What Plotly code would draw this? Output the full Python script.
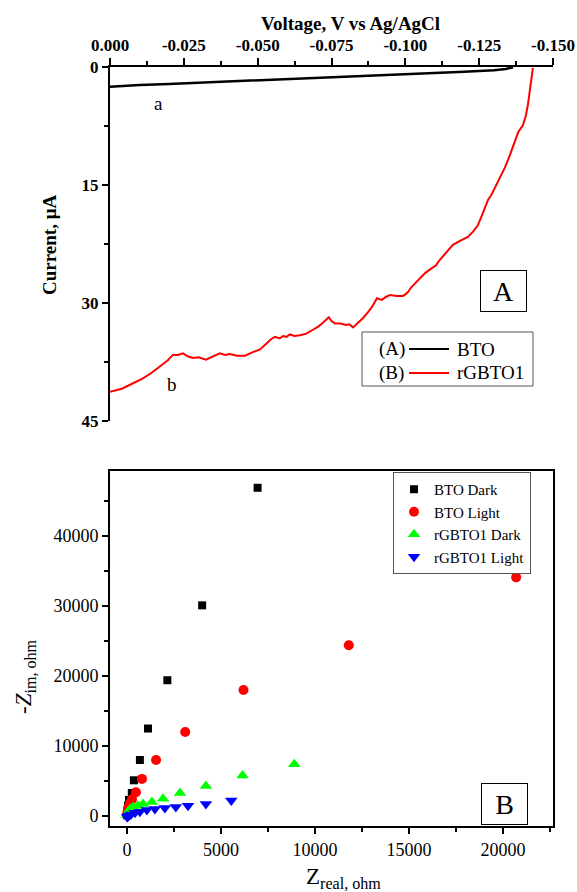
import plotly.graph_objects as go

# ---------------- Panel A data (voltage V vs Ag/AgCl, current uA) ----------------
bto_v = [0.0, -0.002, -0.010, -0.020, -0.030, -0.040, -0.050, -0.060, -0.070, -0.080,
         -0.090, -0.100, -0.110, -0.120, -0.130, -0.134, -0.1365]
bto_i = [2.5, 2.45, 2.3, 2.15, 2.0, 1.85, 1.7, 1.55, 1.4, 1.25,
         1.1, 0.95, 0.8, 0.6, 0.4, 0.25, 0.05]

rg_v = [0.0, -0.0040, -0.0078, -0.0110, -0.0140, -0.0169, -0.0195, -0.0213, -0.0230, -0.0247,
        -0.0265, -0.0281, -0.0300, -0.0325, -0.0350, -0.0372, -0.0390, -0.0406, -0.0430, -0.0457,
        -0.0480, -0.0508, -0.0528, -0.0545, -0.0559, -0.0575, -0.0586, -0.0598, -0.0609, -0.0625,
        -0.0643, -0.0665, -0.0687, -0.0705, -0.0718, -0.0741, -0.0750, -0.0762, -0.0780, -0.0799,
        -0.0810, -0.0823, -0.0840, -0.0857, -0.0875, -0.0887, -0.0904, -0.0921, -0.0935, -0.0948,
        -0.0970, -0.0992, -0.1000, -0.1009, -0.1020, -0.1033, -0.1050, -0.1067, -0.1085, -0.1104,
        -0.1115, -0.1128, -0.1145, -0.1161, -0.1185, -0.1212, -0.1230, -0.1246, -0.1262, -0.1280,
        -0.1292, -0.1304, -0.1320, -0.1337, -0.1354, -0.1370, -0.1382, -0.1398, -0.1408, -0.1415,
        -0.1420, -0.1425, -0.1432]
rg_i = [41.3, 40.9, 40.2, 39.6, 38.9, 38.1, 37.3, 36.6, 36.6, 36.4,
        36.8, 37.0, 36.9, 37.2, 36.8, 36.4, 36.6, 36.5, 36.7, 36.7,
        36.3, 35.9, 35.2, 34.6, 34.3, 34.5, 34.2, 34.3, 34.0, 34.2,
        34.1, 33.9, 33.4, 33.0, 32.6, 31.8, 32.3, 32.6, 32.6, 32.8,
        32.7, 33.1, 32.5, 31.9, 31.1, 30.5, 29.4, 29.6, 29.2, 29.0,
        29.1, 29.1, 28.9, 28.6, 28.0, 27.5, 26.9, 26.2, 25.7, 25.2,
        24.6, 24.0, 23.3, 22.6, 22.1, 21.6, 20.9, 20.1, 18.6, 16.9,
        16.2, 15.3, 14.0, 12.8, 11.2, 9.5, 8.3, 7.4, 6.2, 4.8,
        3.4, 1.9, 0.1]

top_x_ticks = [0.0, -0.025, -0.05, -0.075, -0.1, -0.125, -0.15]
top_x_text = ["0.000", "-0.025", "-0.050", "-0.075", "-0.100", "-0.125", "-0.150"]
top_y_ticks = [0, 15, 30, 45]
top_y_text = ["0", "15", "30", "45"]

# ---------------- Panel B data (Z_real, -Z_im in ohm) ----------------
bto_dark_x = [6950, 4000, 2150, 1120, 690, 370, 260, 110, 60, 30, 10, 0]
bto_dark_y = [46900, 30100, 19400, 12500, 8000, 5100, 3300, 2300, 1500, 900, 400, 100]

bto_light_x = [20700, 11800, 6200, 3100, 1550, 800, 480, 270, 160, 90, 50, 20, 5]
bto_light_y = [34100, 24400, 18000, 12000, 8000, 5300, 3400, 2400, 1800, 1200, 800, 400, 150]

rg_dark_x = [8900, 6150, 4200, 2820, 1920, 1330, 850, 590, 330, 180, 90, 40, 10]
rg_dark_y = [7400, 5800, 4300, 3300, 2450, 2000, 1700, 1450, 1300, 1000, 700, 400, 100]

rg_light_x = [5550, 4200, 3250, 2600, 2020, 1490, 1060, 690, 430, 210, 100, 40, 10]
rg_light_y = [2200, 1700, 1450, 1300, 1150, 1000, 850, 600, 450, 200, 50, -100, -150]

bot_x_ticks = [0, 5000, 10000, 15000, 20000]
bot_x_text = ["0", "5000", "10000", "15000", "20000"]
bot_y_ticks = [0, 10000, 20000, 30000, 40000]
bot_y_text = ["0", "10000", "20000", "30000", "40000"]

W, H = 577, 892
SERIF = "Liberation Serif"


def px(x):
    return x / W


def py(y):
    return 1 - y / H


fig = go.Figure()

fig.add_trace(go.Scatter(x=bto_v, y=bto_i, mode="lines", line=dict(color="black", width=2.5),
                         xaxis="x", yaxis="y", showlegend=False))
fig.add_trace(go.Scatter(x=rg_v, y=rg_i, mode="lines", line=dict(color="#ff0000", width=2),
                         xaxis="x", yaxis="y", showlegend=False))

fig.add_trace(go.Scatter(x=bto_dark_x, y=bto_dark_y, mode="markers", name="BTO Dark",
                         marker=dict(symbol="square", size=8, color="black"),
                         xaxis="x2", yaxis="y2"))
fig.add_trace(go.Scatter(x=bto_light_x, y=bto_light_y, mode="markers", name="BTO Light",
                         marker=dict(symbol="circle", size=10, color="#ff0000"),
                         xaxis="x2", yaxis="y2"))
fig.add_trace(go.Scatter(x=rg_dark_x, y=rg_dark_y, mode="markers", name="rGBTO1 Dark",
                         marker=dict(symbol="triangle-up", size=11, color="#00ff00"),
                         xaxis="x2", yaxis="y2"))
fig.add_trace(go.Scatter(x=rg_light_x, y=rg_light_y, mode="markers", name="rGBTO1 Light",
                         marker=dict(symbol="triangle-down", size=11, color="#0000ff"),
                         xaxis="x2", yaxis="y2"))

xdom = [px(110), px(553)]
bold_tick = dict(family=SERIF, size=17, color="black", weight="bold")
reg_tick = dict(family=SERIF, size=18, color="black")
axis_common = dict(showgrid=False, zeroline=False, showline=True, linecolor="black",
                   linewidth=2, ticks="outside", tickwidth=2, tickcolor="black",
                   automargin=False, tickmode="array")

fig.update_layout(
    width=W, height=H,
    margin=dict(l=0, r=0, t=0, b=0, pad=0, autoexpand=False),
    paper_bgcolor="white", plot_bgcolor="white",
    font=dict(family=SERIF, color="black"),
    xaxis=dict(domain=xdom, anchor="y", side="top", range=[0, -0.15],
               tickvals=top_x_ticks, ticktext=top_x_text, ticklen=7, tickfont=bold_tick,
               minor=dict(ticks="outside", ticklen=4, dtick=0.0125, tickcolor="black", tickwidth=2),
               **axis_common),
    yaxis=dict(domain=[py(421), py(67)], anchor="x", range=[45, 0],
               tickvals=top_y_ticks, ticktext=top_y_text, ticklen=6, tickfont=bold_tick,
               minor=dict(ticks="outside", ticklen=4, dtick=7.5, tickcolor="black", tickwidth=2),
               **axis_common),
    xaxis2=dict(domain=xdom, anchor="y2", range=[-900, 22660], mirror=True,
                tickvals=bot_x_ticks, ticktext=bot_x_text, ticklen=6, tickfont=reg_tick,
                minor=dict(ticks="outside", ticklen=4, dtick=2500, tickcolor="black", tickwidth=2),
                **axis_common),
    yaxis2=dict(domain=[py(826), py(471)], anchor="x2", range=[-1430, 49300], mirror=True,
                tickvals=bot_y_ticks, ticktext=bot_y_text, ticklen=6, tickfont=reg_tick,
                minor=dict(ticks="outside", ticklen=4, dtick=5000, tickcolor="black", tickwidth=2),
                **axis_common),
    legend=dict(x=px(393), y=py(472), xanchor="left", yanchor="top",
                bgcolor="white", bordercolor="#555", borderwidth=1,
                font=dict(family=SERIF, size=15, color="black"),
                itemsizing="trace", tracegroupgap=0),
)

ann_font = dict(family=SERIF, size=19, color="black")
annots = [
    dict(text="<b>Voltage, V vs Ag/AgCl</b>", x=px(350), y=py(23), font=ann_font),
    dict(text="<b>Current, μA</b>", x=px(50), y=py(245), textangle=-90, font=ann_font),
    dict(text="a", x=-0.0163, y=4.7, xref="x", yref="y", font=ann_font),
    dict(text="b", x=-0.021, y=40.4, xref="x", yref="y", font=ann_font),
    dict(text="A", x=px(503), y=py(291), width=45, height=40, bordercolor="black",
         borderwidth=1, borderpad=0, font=dict(family=SERIF, size=28, color="black")),
    dict(text="(A)", x=px(377), y=py(349), xanchor="left", font=ann_font),
    dict(text="BTO", x=px(455), y=py(349), xanchor="left", font=ann_font),
    dict(text="(B)", x=px(377), y=py(373), xanchor="left", font=ann_font),
    dict(text="rGBTO1", x=px(455), y=py(373), xanchor="left", font=ann_font),
    dict(text="B", x=px(504), y=py(804), width=45, height=40, bordercolor="black",
         borderwidth=1, borderpad=0, font=dict(family=SERIF, size=28, color="black")),
    dict(text="-<i>Z</i><sub>im, ohm</sub>", x=px(25), y=py(677), textangle=-90,
         font=dict(family=SERIF, size=23, color="black")),
    dict(text="Z<sub>real, ohm</sub>", x=px(343), y=py(878),
         font=dict(family=SERIF, size=23, color="black")),
]
for a in annots:
    a.setdefault("xref", "paper")
    a.setdefault("yref", "paper")
    a.setdefault("xanchor", "center")
    a.setdefault("yanchor", "middle")
    a["showarrow"] = False
fig.update_layout(annotations=annots)

shapes = [
    dict(type="rect", xref="paper", yref="paper", x0=px(362), x1=px(533), y0=py(386), y1=py(332),
         line=dict(color="#555", width=1)),
    dict(type="line", xref="paper", yref="paper", x0=px(409), x1=px(449), y0=py(349), y1=py(349),
         line=dict(color="black", width=2)),
    dict(type="line", xref="paper", yref="paper", x0=px(409), x1=px(449), y0=py(373), y1=py(373),
         line=dict(color="#ff0000", width=2)),
]
fig.update_layout(shapes=shapes)

fig.write_html("out.html")
